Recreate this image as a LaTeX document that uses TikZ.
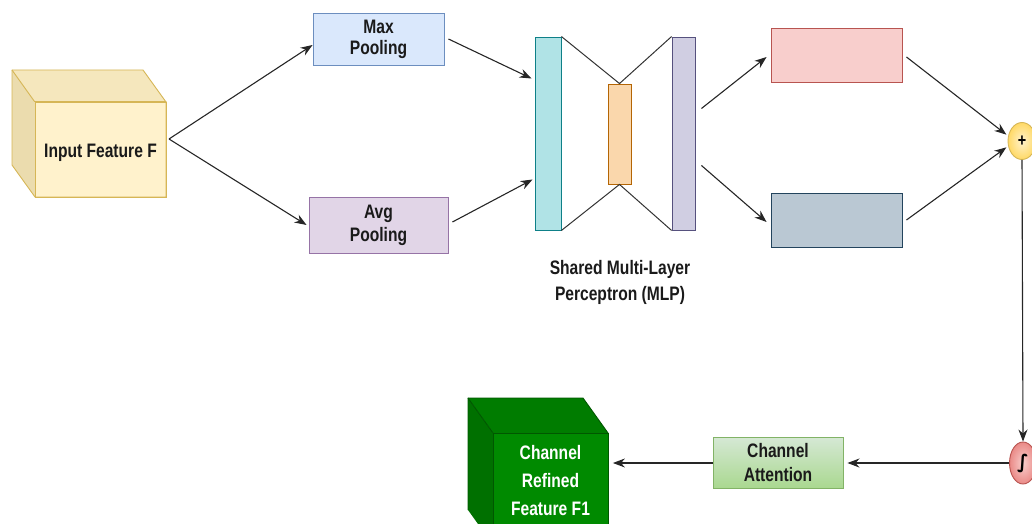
\documentclass[tikz,border=0pt]{standalone}
\usepackage{fontspec}
\setmainfont{Liberation Sans}[FakeStretch=0.8]
\newfontfamily\symfont{DejaVu Sans}
\usetikzlibrary{arrows.meta,shapes.geometric,calc}
\definecolor{inpF}{HTML}{FFF2CC}
\definecolor{inpS}{HTML}{D6B656}
\definecolor{inpTop}{HTML}{F5E7BD}
\definecolor{inpLeft}{HTML}{EBDCAE}
\definecolor{maxF}{HTML}{DAE8FC}
\definecolor{maxS}{HTML}{6C8EBF}
\definecolor{avgF}{HTML}{E1D5E7}
\definecolor{avgS}{HTML}{9673A6}
\definecolor{cyF}{HTML}{B0E3E6}
\definecolor{cyS}{HTML}{0E8088}
\definecolor{orF}{HTML}{FAD7AC}
\definecolor{orS}{HTML}{B46504}
\definecolor{puF}{HTML}{D0CEE2}
\definecolor{puS}{HTML}{56517E}
\definecolor{pkF}{HTML}{F8CECC}
\definecolor{pkS}{HTML}{B85450}
\definecolor{grF}{HTML}{BAC8D3}
\definecolor{grS}{HTML}{23445D}
\definecolor{caF1}{HTML}{D5E8D4}
\definecolor{caF2}{HTML}{A9D88F}
\definecolor{caS}{HTML}{82B366}
\definecolor{gcF}{HTML}{008A00}
\definecolor{gcS}{HTML}{005700}
\definecolor{gcTop}{HTML}{007C00}
\definecolor{gcLeft}{HTML}{007000}
\definecolor{plusOut}{HTML}{FFD966}
\definecolor{sigOut}{HTML}{EA8A87}
\definecolor{txt}{HTML}{1A1A1A}
\tikzset{
  lbl/.style={font=\fontsize{19.5}{#1}\selectfont\bfseries, align=center, text=txt},
  lbl/.default=22,
  boxn/.style={draw=#1, line width=0.9pt, inner sep=0pt},
  arr/.style={line width=1.1pt, draw=black!85, -{Stealth[length=12pt,width=9pt]}},
  thin/.style={line width=1pt, draw=black!80},
}
\begin{document}
\begin{tikzpicture}[x=1pt,y=-1pt]
\useasboundingbox (0,0) rectangle (1032,524);

% Input cube
\fill[inpTop] (12,70) -- (143,70) -- (166,102) -- (35,102) -- cycle;
\fill[inpLeft] (12,70) -- (35,102) -- (35,197) -- (12,165) -- cycle;
\node[boxn=inpS, fill=inpF, minimum width=131pt, minimum height=95pt] (inpface) at (100.5,149.5) {};
\draw[inpS, line width=0.9pt, line join=round] (12,70) -- (143,70) -- (166,102) -- (166,197) -- (35,197) -- (12,165) -- cycle;
\draw[inpS, line width=0.9pt] (12,70) -- (inpface.north west) -- (inpface.north east);
\node[lbl] (inptxt) at ([yshift=-3pt]inpface.center) {Input Feature F};
\coordinate (io) at (169,139);

% Pooling
\node[boxn=maxS, fill=maxF, minimum width=131pt, minimum height=52pt, lbl=21] (mp) at (378.5,39) {Max\\Pooling};
\node[boxn=avgS, fill=avgF, minimum width=139pt, minimum height=56pt, lbl=23] (ap) at (378.5,225) {Avg\\Pooling};

% MLP
\node[boxn=cyS, fill=cyF, minimum width=26pt, minimum height=193pt] (cy) at (548,133.5) {};
\node[boxn=orS, fill=orF, minimum width=23pt, minimum height=100pt] (orr) at (619.5,134) {};
\node[boxn=puS, fill=puF, minimum width=23pt, minimum height=193pt] (pu) at (683.5,133.5) {};
\draw[thin] (cy.north east) -- (orr.north) -- (pu.north west);
\draw[thin] (cy.south east) -- (orr.south) -- (pu.south west);
\node[lbl=26] (mlp) at (620,282) {Shared Multi-Layer\\Perceptron (MLP)};

% outputs
\node[boxn=pkS, fill=pkF, minimum width=131pt, minimum height=54pt] (pk) at (836.5,55) {};
\node[boxn=grS, fill=grF, minimum width=131pt, minimum height=54pt] (gr) at (836.5,220) {};

% plus and sigma
\node[ellipse, draw=inpS, line width=0.9pt, inner color=inpF, outer color=plusOut, minimum width=28pt, minimum height=37pt, inner sep=0pt, font=\fontsize{18}{18}\selectfont\bfseries] (plus) at (1022,141) {+};
\node[ellipse, draw=pkS, line width=0.9pt, inner color=pkF, outer color=sigOut, minimum width=27pt, minimum height=42pt, inner sep=0pt, font=\symfont\fontsize{19}{19}\selectfont\bfseries] (sig) at (1023,463) {∫};

% Channel attention
\node[boxn=caS, top color=caF1, bottom color=caF2, minimum width=130pt, minimum height=51pt, lbl=24] (ca) at (778,463) {Channel\\Attention};

% Green cube
\fill[gcTop] (468,398) -- (583,398) -- (608,433) -- (493,433) -- cycle;
\fill[gcLeft] (468,398) -- (493,433) -- (493,545) -- (468,510) -- cycle;
\node[boxn=gcS, fill=gcF, minimum width=115pt, minimum height=112pt, anchor=north west] (gface) at (493,433) {};
\draw[gcS, line width=0.9pt, line join=round] (468,510) -- (468,398) -- (583,398) -- (608,433);
\draw[gcS, line width=0.9pt] (468,398) -- (gface.north west);
\node[lbl=28, text=white] (gtxt) at (550.5,481) {Channel\\Refined\\Feature F1};

% connectors
\draw[arr] (io) -- ([yshift=-6pt]mp.west);
\draw[arr] (io) -- ([xshift=-2pt]ap.west);
\draw[arr] ([xshift=4pt]mp.east) -- ([yshift=55pt,xshift=-3pt]cy.west);
\draw[arr] ([xshift=4pt,yshift=3pt]ap.east) -- ([yshift=-46pt,xshift=-2pt]cy.west);
\draw[arr] ([xshift=6pt,yshift=25pt]pu.east) -- ([xshift=-4pt,yshift=-2pt]pk.west);
\draw[arr] ([xshift=6pt,yshift=-32pt]pu.east) -- ([xshift=-4pt,yshift=-2pt]gr.west);
\draw[arr] ([xshift=4pt,yshift=-2pt]pk.east) -- ([xshift=-2pt]plus.155);
\draw[arr] ([xshift=4pt]gr.east) -- ([xshift=-2pt]plus.205);
\draw[arr] (plus.south) -- (sig.north);
\draw[arr] (sig.west) -- ([xshift=4pt]ca.east);
\draw[arr] (ca.west) -- ([xshift=4pt]ca.west -| gface.east);
\end{tikzpicture}
\end{document}
